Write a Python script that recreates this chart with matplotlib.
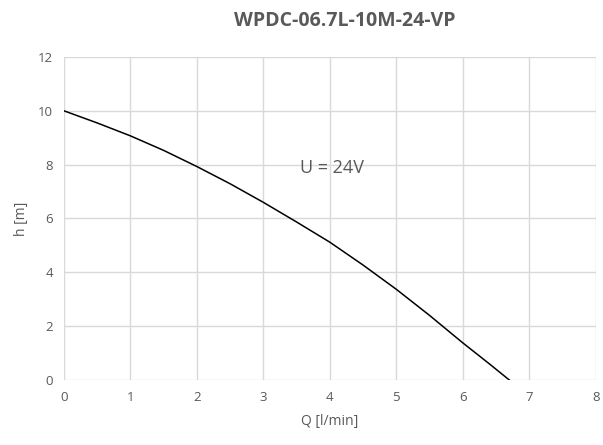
import matplotlib.pyplot as plt

# Pump curve data
q = [0, 0.5, 1, 1.5, 2, 2.5, 3, 3.5, 4, 4.5, 5, 5.5, 6, 6.4, 6.7]
h = [10, 9.55, 9.07, 8.53, 7.93, 7.29, 6.6, 5.87, 5.12, 4.27, 3.37, 2.4, 1.38, 0.6, 0]

title = 'WPDC-06.7L-10M-24-VP'
grey = '#595959'

plt.rcParams['font.family'] = ['Open Sans', 'DejaVu Sans']

fig = plt.figure(figsize=(6.03, 4.45), dpi=100)
ax = fig.add_axes([0.106, 0.146, 0.882, 0.726])

ax.plot(q, h, color='black', linewidth=1.1)

ax.set_xlim(0, 8)
ax.set_ylim(0, 12)
ax.set_xticks(range(0, 9))
ax.set_yticks(range(0, 13, 2))
ax.grid(True, color='#d9d9d9', linewidth=1)
ax.set_axisbelow(True)
for s in ax.spines.values():
    s.set_visible(False)
ax.tick_params(length=0, colors=grey, labelsize=9.5, pad=8)

ax.set_xlabel('Q [l/min]', color=grey, fontsize=10, labelpad=7)
ax.set_ylabel('h [m]', color=grey, fontsize=10, labelpad=6)
fig.suptitle(title, x=0.572, y=0.975, fontsize=14, fontweight='bold', color=grey)

ax.text(3.55, 7.88, 'U = 24V', color=grey, fontsize=13, va='center')

fig.savefig('out.png', dpi=100)
